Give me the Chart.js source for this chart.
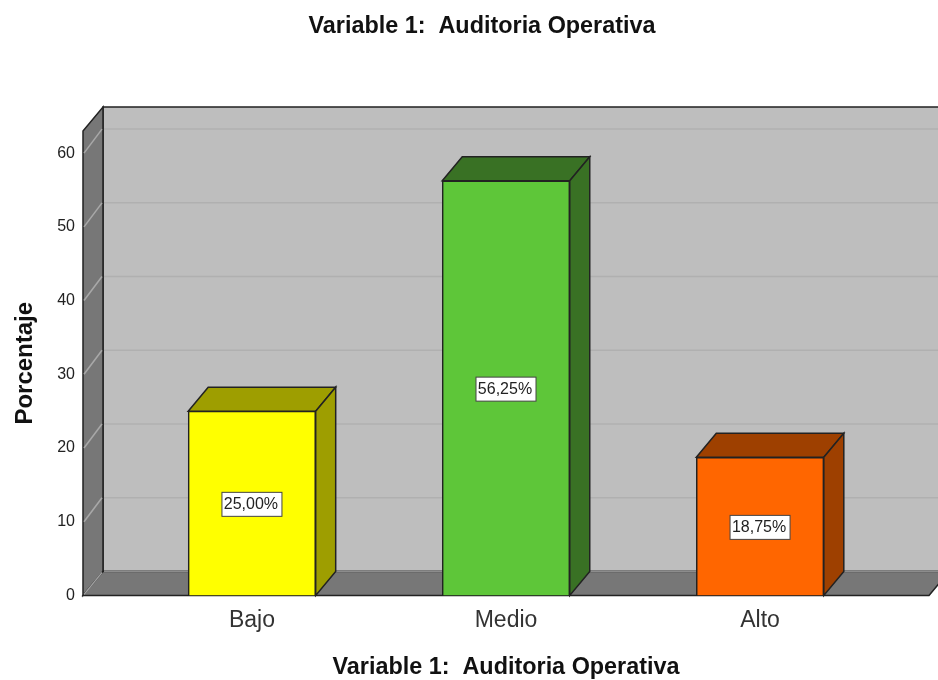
<!DOCTYPE html>
<html>
<head>
<meta charset="utf-8">
<title>Variable 1: Auditoria Operativa</title>
<style>
    html, body { margin: 0; padding: 0; background: #fff; overflow: hidden; width: 938px; height: 680px; }
    canvas { display: block; }
</style>
<script src="https://cdn.jsdelivr.net/npm/chart.js@4/dist/chart.umd.min.js"></script>
</head>
<body>
<canvas id="chart" width="964" height="680"></canvas>
<script>
const categories = ['Bajo', 'Medio', 'Alto'];
const percentages = [25.00, 56.25, 18.75];
const frontColors = ['#ffff00', '#5ec639', '#ff6600'];
const sideColors = ['#9e9e00', '#397124', '#9e4000'];
const yTicks = [0, 10, 20, 30, 40, 50, 60];
const chartTitle = 'Variable 1:  Auditoria Operativa';
const yTitle = 'Porcentaje';

// depth of the fake 3D box, in pixels
const depthX = 20;
const depthY = 24;
const lineColor = '#222222';
const fontFamily = '"Liberation Sans", Arial, sans-serif';

function polygon(ctx, points, fill) {
    ctx.beginPath();
    points.forEach((p, i) => i ? ctx.lineTo(p[0], p[1]) : ctx.moveTo(p[0], p[1]));
    ctx.closePath();
    ctx.fillStyle = fill;
    ctx.fill();
    ctx.lineWidth = 1.5;
    ctx.strokeStyle = lineColor;
    ctx.stroke();
}

function line(ctx, x1, y1, x2, y2, color) {
    ctx.strokeStyle = color;
    ctx.beginPath();
    ctx.moveTo(x1, y1);
    ctx.lineTo(x2, y2);
    ctx.stroke();
}

// back wall, side wall and floor go behind the bars
const wallsPlugin = {
    id: 'walls',
    afterLayout(chart) {
        // top title is centred on the whole canvas, not the padded width
        chart.titleBlock.left = 0;
        chart.titleBlock.right = chart.width;
    },
    beforeDatasetsDraw(chart) {
        const ctx = chart.ctx;
        const { left, right, top, bottom } = chart.chartArea;
        const y = chart.scales.y;
        ctx.save();
        polygon(ctx, [[left + depthX, top - depthY], [right + depthX, top - depthY], [right + depthX, bottom - depthY], [left + depthX, bottom - depthY]], '#bebebe');
        polygon(ctx, [[left, top], [left + depthX, top - depthY], [left + depthX, bottom - depthY], [left, bottom]], '#777777');
        polygon(ctx, [[left, bottom], [left + depthX, bottom - depthY], [right + depthX, bottom - depthY], [right, bottom]], '#777777');

        // the inner edges of the floor are soft, not black
        ctx.lineWidth = 1.5;
        line(ctx, left + depthX + 1, bottom - depthY, right + depthX, bottom - depthY, '#8c8c8c');
        line(ctx, left + 1, bottom - 1, left + depthX - 1, bottom - depthY + 1, '#a0a0a0');

        yTicks.slice(1).forEach(tick => {
            const py = y.getPixelForValue(tick);
            line(ctx, left + depthX + 1, py - depthY, right + depthX, py - depthY, '#b0b0b0');
            line(ctx, left + 1, py, left + depthX - 1, py - depthY, '#a8a8a8');
        });
        ctx.restore();
    },
    afterDatasetsDraw(chart) {
        const ctx = chart.ctx;
        const bars = chart.getDatasetMeta(0).data;
        ctx.save();
        bars.forEach((bar, i) => {
            const l = bar.x - bar.width / 2;
            const r = bar.x + bar.width / 2;
            polygon(ctx, [[l, bar.y], [l + depthX, bar.y - depthY], [r + depthX, bar.y - depthY], [r, bar.y]], sideColors[i]);
            polygon(ctx, [[r, bar.y], [r + depthX, bar.y - depthY], [r + depthX, bar.base - depthY], [r, bar.base]], sideColors[i]);

            // value label in the middle of the front face
            const text = percentages[i].toFixed(2).replace('.', ',') + '%';
            const cy = (bar.y + bar.base) / 2 + 1;
            ctx.fillStyle = '#ffffff';
            ctx.fillRect(bar.x - 30, cy - 12, 60, 24);
            ctx.lineWidth = 1;
            ctx.strokeStyle = '#444444';
            ctx.strokeRect(bar.x - 30, cy - 12, 60, 24);
            ctx.fillStyle = '#222222';
            ctx.font = '16px ' + fontFamily;
            ctx.textAlign = 'center';
            ctx.textBaseline = 'middle';
            ctx.fillText(text, bar.x - 1, cy + 0.5);
        });
        ctx.restore();
    }
};

new Chart(document.getElementById('chart'), {
    type: 'bar',
    data: {
        datasets: [{
            data: categories.map((c, i) => ({ x: i + 1, y: percentages[i] })),
            backgroundColor: frontColors,
            borderColor: lineColor,
            borderWidth: 1.5,
            barThickness: 127.5
        }]
    },
    plugins: [wallsPlugin],
    options: {
        responsive: false,
        animation: false,
        devicePixelRatio: 1,
        layout: { padding: { left: 0, right: 35, top: 0, bottom: 0 } },
        plugins: {
            legend: { display: false },
            tooltip: { enabled: false },
            title: {
                display: true,
                text: chartTitle,
                color: '#111111',
                font: { family: fontFamily, size: 23.4, weight: 'bold', lineHeight: 1.2 },
                padding: { top: 12.5, bottom: 90.4 }
            }
        },
        scales: {
            x: {
                type: 'linear',
                offset: false,
                min: 0.335,
                max: 3.665,
                grid: { display: false, offset: false },
                border: { display: false },
                afterFit: scale => { scale.height = 84.5; },
                ticks: {
                    stepSize: 1,
                    includeBounds: false,
                    maxRotation: 0,
                    padding: 3,
                    color: '#333333',
                    font: { family: fontFamily, size: 23 },
                    callback: value => categories[value - 1]
                },
                title: {
                    display: true,
                    text: chartTitle,
                    color: '#111111',
                    font: { family: fontFamily, size: 23.4, weight: 'bold', lineHeight: 1.2 },
                    padding: { top: 0, bottom: -2 }
                }
            },
            y: {
                min: 0,
                max: 63,
                grid: { display: false },
                border: { display: false },
                afterFit: scale => { scale.width = 83; },
                ticks: {
                    stepSize: 10,
                    includeBounds: false,
                    padding: 0,
                    color: '#222222',
                    font: { family: fontFamily, size: 16 }
                },
                title: {
                    display: true,
                    text: yTitle,
                    color: '#111111',
                    font: { family: fontFamily, size: 24, weight: 'bold', lineHeight: 1.2 },
                    padding: { top: 11, bottom: 0 }
                }
            }
        }
    }
});
</script>
</body>
</html>
